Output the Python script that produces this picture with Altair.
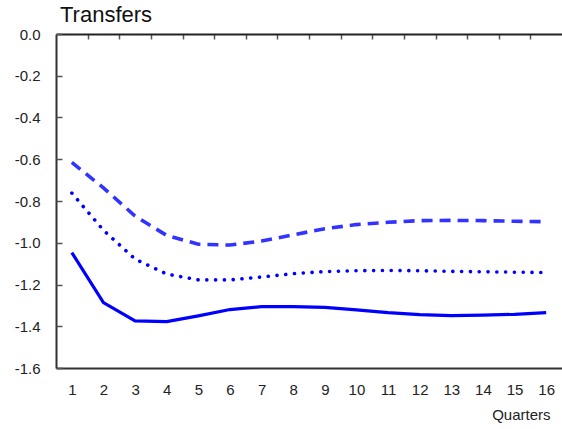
import altair as alt
import pandas as pd

quarters = list(range(1, 17))
solid = [-1.047, -1.287, -1.374, -1.378, -1.350, -1.320, -1.306, -1.306,
         -1.310, -1.322, -1.335, -1.344, -1.349, -1.347, -1.343, -1.335]
dashed = [-0.615, -0.737, -0.872, -0.965, -1.007, -1.011, -0.992, -0.962,
          -0.933, -0.913, -0.902, -0.894, -0.893, -0.894, -0.897, -0.899]
dotted = [-0.762, -0.94, -1.078, -1.15, -1.178, -1.178, -1.164, -1.148,
          -1.138, -1.134, -1.133, -1.134, -1.137, -1.139, -1.141, -1.143]

y_ticks = [-1.6, -1.4, -1.2, -1.0, -0.8, -0.6, -0.4, -0.2, 0.0]
x_bounds = [q + 0.5 for q in quarters[:-1]]

W, H = 506, 334
FONT = "Liberation Sans"

df = pd.DataFrame({"q": quarters, "solid": solid, "dashed": dashed, "dotted": dotted})

xscale = alt.Scale(domain=[0.5, 16.5], nice=False, zero=False)
yscale = alt.Scale(domain=[-1.6, 0.0], nice=False, zero=False)

label_expr = "(datum.value < 0 ? '-' : '') + format(abs(datum.value), '.1f')"

x_main = alt.X("q:Q", scale=xscale, axis=alt.Axis(
    orient="bottom", values=quarters, ticks=False, tickSize=0, grid=False,
    domain=True, domainColor="#333333", domainWidth=2,
    labelFont=FONT, labelFontSize=15, labelColor="#222222", labelPadding=14,
    title="Quarters", titleFont=FONT, titleFontSize=15, titleFontWeight="normal",
    titleColor="#222222", titleAlign="right", titleAnchor="end",
    titleX=494, titleY=51, titleBaseline="alphabetic"))
y_main = alt.Y("solid:Q", scale=yscale, axis=alt.Axis(
    orient="left", values=y_ticks, ticks=False, tickSize=0, grid=False,
    domain=True, domainColor="#333333", domainWidth=2,
    labelFont=FONT, labelFontSize=15, labelColor="#222222", labelPadding=16,
    labelExpr=label_expr, title=None))

solid_layer = alt.Chart(df).mark_line(color="#0000FF", strokeWidth=3.2).encode(
    x=x_main, y=y_main)

x_sec = alt.X("q:Q", scale=xscale, axis=alt.Axis(
    orient="bottom", offset=-H, values=x_bounds, ticks=True, tickSize=5,
    tickColor="#555555", tickWidth=1.5, labels=False, grid=False,
    domain=True, domainColor="#222222", domainWidth=2, title=None))
y_sec = alt.Y("dashed:Q", scale=yscale, axis=alt.Axis(
    orient="right", offset=-W, values=y_ticks, ticks=True, tickSize=6,
    tickColor="#555555", tickWidth=1.5, labels=False, grid=False,
    domain=False, title=None))

dashed_layer = alt.Chart(df).mark_line(
    color="#3333FF", strokeWidth=3.6, strokeDash=[11, 7]).encode(x=x_sec, y=y_sec)

dotted_layer = alt.Chart(df).mark_line(
    color="#0000FF", strokeWidth=3.6, strokeDash=[0.1, 8.7], strokeCap="round").encode(
    x=alt.X("q:Q", scale=xscale, axis=None),
    y=alt.Y("dotted:Q", scale=yscale, axis=None))

chart = alt.layer(solid_layer, dashed_layer, dotted_layer).resolve_axis(
    x="independent", y="independent"
).properties(
    width=W, height=H,
    title=alt.TitleParams("Transfers", anchor="start", frame="group", font=FONT,
                          fontSize=22, fontWeight="normal", color="#111111",
                          offset=9, dx=4, dy=9),
    autosize=alt.AutoSizeParams(type="none"),
    padding={"left": 56, "top": 34, "right": 0, "bottom": 61},
).configure_view(stroke=None)

chart.save("out.html", embed_options={"renderer": "svg", "actions": False})
